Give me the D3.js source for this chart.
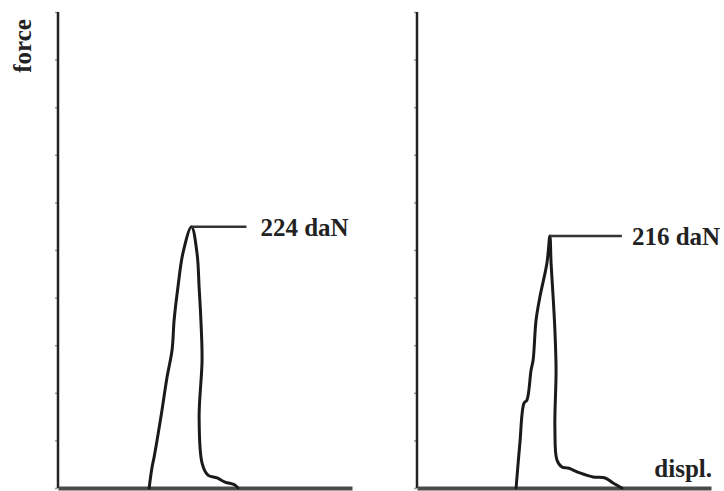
<!DOCTYPE html>
<html>
<head>
<meta charset="utf-8">
<script src="https://cdn.jsdelivr.net/npm/d3@7"></script>
<style>
  body { margin: 0; background: #fff; }
  svg { display: block; }
  text { font-family: 'Liberation Serif', 'Times New Roman', serif; font-weight: bold; fill: #222; }
</style>
</head>
<body>
<svg id="chart" width="724" height="491"></svg>
<script>
// displacement (arbitrary units) and force (daN)
const leftDispl = [31.0, 32.0, 32.7, 35.0, 37.1, 38.8, 39.5, 40.8, 42.5, 45.4, 47.3, 48.0, 48.6, 49.0, 48.0, 49.0, 51.0, 54.1, 56.8, 60.2, 61.2];
const leftForce = [0, 18, 26.6, 60.8, 95.1, 118.3, 144, 172.3, 201.4, 224, 201, 172, 144, 109.7, 60.8, 21.4, 11.1, 8.6, 5.1, 2.6, 0];

const rightDispl = [33.7, 35.0, 36.4, 37.4, 38.8, 39.5, 40.5, 41.8, 44.2, 45.2, 45.6, 46.3, 46.9, 47.3, 46.9, 47.6, 49.3, 51.4, 55.4, 59.9, 64.0, 66.7, 69.7];
const rightForce = [0, 38.6, 72.8, 75.4, 101.1, 109.7, 144, 163.7, 192.8, 216, 192.8, 163.7, 135.4, 101.1, 52.3, 24, 18, 17.1, 12.9, 9.4, 8.6, 4.3, 0];

const peakLabels = ['224 daN', '216 daN'];
const peakForces = [224, 216];
const peakDispl = [45.4, 45.2];
const yLabel = 'force';
const xLabel = 'displ.';

const forceTicks = d3.range(0, 11).map(i => i * 40.8);

const plotTop = 12, plotBottom = 488;
const panels = [
  { x0: 58, x1: 352, displ: leftDispl, force: leftForce, leader: 55, gap: 14 },
  { x0: 417, x1: 711, displ: rightDispl, force: rightForce, leader: 72, gap: 10 }
];

const svg = d3.select('#chart');

const yScale = d3.scaleLinear()
  .domain([0, 408])
  .range([plotBottom, plotTop]);

panels.forEach((p, i) => {
  const xScale = d3.scaleLinear()
    .domain([0, 100])
    .range([p.x0, p.x1]);

  // y axis with small ticks
  const yAxis = svg.append('g')
    .attr('transform', `translate(${p.x0}, 0)`)
    .call(d3.axisLeft(yScale).tickValues(forceTicks).tickSize(3).tickFormat(''));
  yAxis.select('.domain').remove();
  yAxis.selectAll('.tick line').attr('stroke', '#999').attr('stroke-width', 1.5);
  svg.append('line')
    .attr('x1', p.x0).attr('x2', p.x0)
    .attr('y1', plotTop).attr('y2', plotBottom)
    .attr('stroke', '#222').attr('stroke-width', 2.5);

  // x axis baseline
  const xAxis = svg.append('g')
    .attr('transform', `translate(0, ${plotBottom})`)
    .call(d3.axisBottom(xScale).tickValues([]).tickSizeOuter(0));
  xAxis.select('.domain').attr('stroke', '#4a4a4a').attr('stroke-width', 4);

  const pts = p.displ.map((d, j) => [d, p.force[j]]);
  svg.append('path')
    .datum(pts)
    .attr('fill', 'none')
    .attr('stroke', '#1a1a1a')
    .attr('stroke-width', 3)
    .attr('stroke-linejoin', 'round')
    .attr('stroke-linecap', 'round')
    .attr('d', d3.line()
      .x(d => xScale(d[0]))
      .y(d => yScale(d[1]))
      .curve(d3.curveCatmullRom.alpha(0.5)));

  // peak leader line + label
  const px = xScale(peakDispl[i]);
  const py = yScale(peakForces[i]);
  svg.append('line')
    .attr('x1', px).attr('x2', px + p.leader)
    .attr('y1', py).attr('y2', py)
    .attr('stroke', '#333').attr('stroke-width', 2.5);
  svg.append('text')
    .attr('x', px + p.leader + p.gap)
    .attr('y', py + 9)
    .attr('font-size', 25)
    .text(peakLabels[i]);
});

svg.append('text')
  .attr('transform', 'translate(31, 46) rotate(-90)')
  .attr('text-anchor', 'middle')
  .attr('font-size', 25)
  .text(yLabel);

svg.append('text')
  .attr('x', 712)
  .attr('y', 477)
  .attr('text-anchor', 'end')
  .attr('font-size', 25)
  .text(xLabel);
</script>
</body>
</html>
